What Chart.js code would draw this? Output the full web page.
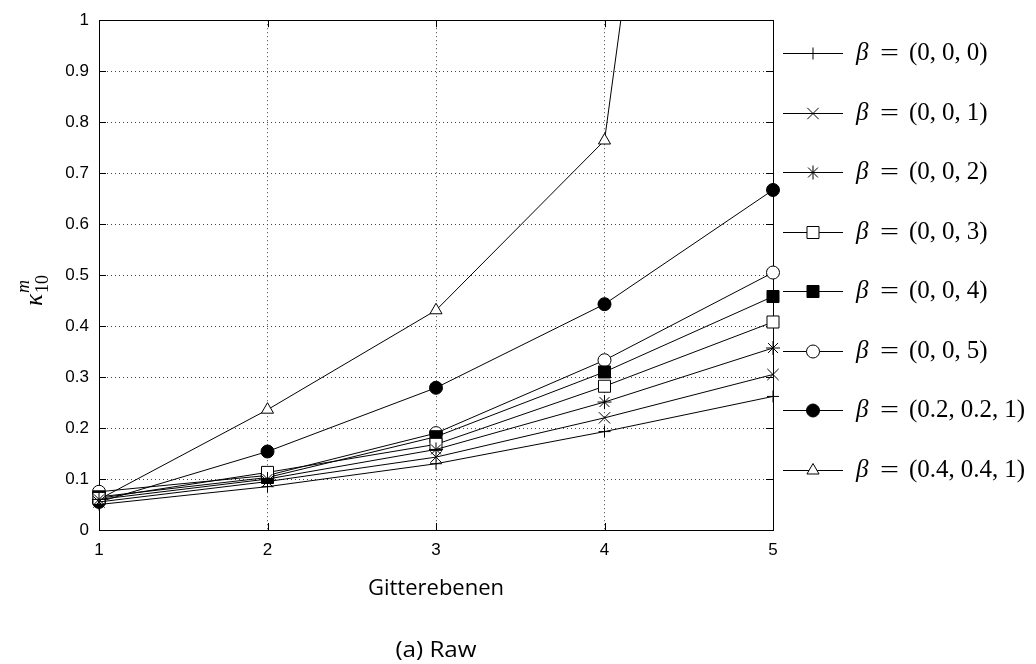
<!DOCTYPE html>
<html>
<head>
<meta charset="utf-8">
<script src="https://cdn.jsdelivr.net/npm/chart.js@4/dist/chart.umd.min.js"></script>
<style>
html,body{margin:0;padding:0;background:#fff;}
canvas{display:block;}
</style>
</head>
<body>
<canvas id="c" width="1036" height="664"></canvas>
<script>
// ---- data ----
const xValues = [1, 2, 3, 4, 5];
const yTickLabels = ['0','0.1','0.2','0.3','0.4','0.5','0.6','0.7','0.8','0.9','1'];
const xTickLabels = ['1','2','3','4','5'];
const seriesNames = ['(0, 0, 0)','(0, 0, 1)','(0, 0, 2)','(0, 0, 3)','(0, 0, 4)','(0, 0, 5)','(0.2, 0.2, 1)','(0.4, 0.4, 1)'];
const s000 = [0.050, 0.085, 0.130, 0.193, 0.262];
const s001 = [0.055, 0.095, 0.143, 0.220, 0.305];
const s002 = [0.060, 0.100, 0.158, 0.251, 0.357];
const s003 = [0.062, 0.113, 0.168, 0.282, 0.408];
const s004 = [0.065, 0.103, 0.183, 0.310, 0.458];
const s005 = [0.075, 0.107, 0.190, 0.333, 0.505];
const s221 = [0.055, 0.154, 0.279, 0.443, 0.667];
const s441 = [0.060, 0.236, 0.431, 0.764, 3.200];

const seriesValues = [s000, s001, s002, s003, s004, s005, s221, s441];
const markerStyles = [
  {style:'cross', r:6, fill:'#fff'},
  {style:'crossRot', r:8, fill:'#fff'},
  {style:'star', r:7, fill:'#fff'},
  {style:'rect', r:8.5, fill:'#fff'},
  {style:'rect', r:8.5, fill:'#000'},
  {style:'circle', r:6.5, fill:'#fff'},
  {style:'circle', r:6.5, fill:'#000'},
  {style:'triangle', r:7, fill:'#fff'}
];

const datasets = seriesValues.map((vals, i) => ({
  label: seriesNames[i],
  data: vals.map((v, j) => ({x: xValues[j], y: v})),
  borderColor: '#000',
  borderWidth: 1,
  pointStyle: markerStyles[i].style,
  pointRadius: markerStyles[i].r,
  pointBackgroundColor: markerStyles[i].fill,
  pointBorderColor: '#000',
  pointBorderWidth: 1,
  fill: false,
  tension: 0,
  clip: {left: 20, right: 20, top: 0, bottom: 20}
}));

const frame = {
  id: 'frame',
  beforeDatasetsDraw(chart) {
    const {ctx, chartArea: a, scales} = chart;
    ctx.save();
    ctx.strokeStyle = '#000';
    ctx.lineWidth = 1;
    ctx.strokeRect(Math.round(a.left) + 0.5, Math.round(a.top) + 0.5, Math.round(a.right - a.left), Math.round(a.bottom - a.top));
    const tl = 7;
    ctx.beginPath();
    scales.y.ticks.forEach(t => {
      const y = Math.round(scales.y.getPixelForValue(t.value)) + 0.5;
      ctx.moveTo(a.left, y); ctx.lineTo(a.left + tl, y);
      ctx.moveTo(a.right, y); ctx.lineTo(a.right - tl, y);
    });
    scales.x.ticks.forEach(t => {
      const x = Math.round(scales.x.getPixelForValue(t.value)) + 0.5;
      ctx.moveTo(x, a.bottom); ctx.lineTo(x, a.bottom - tl);
      ctx.moveTo(x, a.top); ctx.lineTo(x, a.top + tl);
    });
    ctx.stroke();
    ctx.restore();
  },
  afterDraw(chart) {
    const {ctx, chartArea: a} = chart;
    ctx.save();
    ctx.fillStyle = '#000';
    const cx = (a.left + a.right) / 2;
    // x title and caption
    ctx.font = '22px "Open Sans"';
    ctx.textAlign = 'center';
    ctx.textBaseline = 'middle';
    ctx.fillText('Gitterebenen', cx, 589);
    ctx.save();
    ctx.font = '22px "Open Sans"';
    ctx.translate(cx, 651);
    ctx.scale(1.1, 1);
    ctx.fillText('(a) Raw', 0, 0);
    ctx.restore();
    // y title kappa_10^m rotated
    ctx.save();
    ctx.translate(36, 284);
    ctx.rotate(-Math.PI / 2);
    ctx.textAlign = 'left';
    ctx.textBaseline = 'alphabetic';
    ctx.font = 'italic 25px "Liberation Serif"';
    const kw = ctx.measureText('κ').width;
    const start = -22;
    ctx.fillText('κ', start, 6);
    ctx.font = '18px "Liberation Serif"';
    ctx.fillText('10', start + kw + 1, 12);
    ctx.font = 'italic 18px "Liberation Serif"';
    ctx.fillText('m', start + kw + 1, -7);
    ctx.restore();
    // legend
    const lx0 = 783, lx1 = 843, mx = 813, tx = 856;
    const y0 = 53, dy = 59.5;
    chart.data.datasets.forEach((ds, i) => {
      const y = Math.round(y0 + i * dy) + 0.5;
      ctx.strokeStyle = '#000';
      ctx.lineWidth = 1;
      ctx.beginPath();
      ctx.moveTo(lx0, y); ctx.lineTo(lx1, y);
      ctx.stroke();
      ctx.fillStyle = ds.pointBackgroundColor;
      ctx.strokeStyle = '#000';
      if (Chart.helpers && Chart.helpers.drawPoint) {
        Chart.helpers.drawPoint(ctx, {pointStyle: ds.pointStyle, radius: ds.pointRadius, rotation: 0, borderWidth: 1}, mx, y);
      }
      // text
      ctx.fillStyle = '#000';
      ctx.textAlign = 'left';
      ctx.textBaseline = 'middle';
      let x = tx;
      ctx.font = 'italic 25px "Liberation Serif"';
      ctx.fillText('β', x, y);
      ctx.font = '24px "Liberation Serif"';
      // stretched equals sign
      ctx.save();
      ctx.translate(880, y);
      ctx.scale(1.4, 1);
      ctx.fillText('=', 0, 0);
      ctx.restore();
      ctx.font = '25px "Liberation Serif"';
      x = 909;
      const inner = ds.label.slice(1, -1).split(', ');
      ctx.fillText('(', x, y);
      x += ctx.measureText('(').width;
      inner.forEach((p, k) => {
        ctx.fillText(p, x, y);
        x += ctx.measureText(p).width;
        if (k < inner.length - 1) {
          ctx.fillText(',', x, y);
          x += ctx.measureText(',').width + 6;
        }
      });
      ctx.fillText(')', x, y);
    });
    ctx.restore();
  }
};

new Chart(document.getElementById('c'), {
  type: 'line',
  data: {datasets},
  options: {
    responsive: false,
    animation: false,
    devicePixelRatio: 1,
    layout: {padding: {top: 17, right: 263, left: 0, bottom: 0}},
    plugins: {legend: {display: false}, tooltip: {enabled: false}},
    scales: {
      x: {
        type: 'linear', min: 1, max: 5,
        afterFit(s) { s.height = 134; },
        ticks: {stepSize: 1, padding: 10, color: '#000', font: {family: '"Liberation Sans"', size: 17},
          callback: (v, i) => xTickLabels[i]},
        grid: {color: '#444', lineWidth: 1, drawTicks: false},
        border: {display: false, dash: [1, 3]}
      },
      y: {
        type: 'linear', min: 0, max: 1,
        afterFit(s) { s.width = 99; },
        ticks: {stepSize: 0.1, padding: 10, color: '#000', font: {family: '"Liberation Sans"', size: 17},
          callback: (v, i) => yTickLabels[i]},
        grid: {color: '#444', lineWidth: 1, drawTicks: false},
        border: {display: false, dash: [1, 3]}
      }
    }
  },
  plugins: [frame]
});
</script>
</body>
</html>
